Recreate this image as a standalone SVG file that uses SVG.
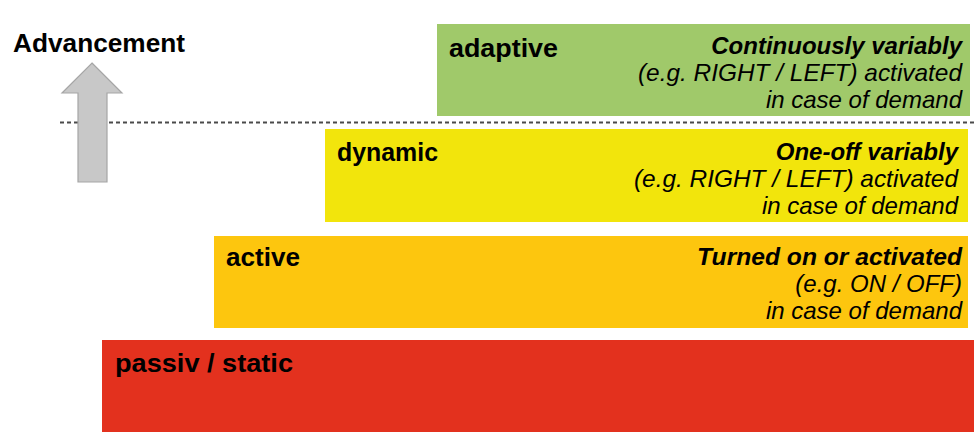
<svg xmlns="http://www.w3.org/2000/svg" width="974" height="438" viewBox="0 0 974 438">
<style>
.lbl{font-family:"Liberation Sans",Arial,sans-serif;font-weight:bold;font-size:25px;fill:#000}
.hd{font-family:"Liberation Sans",Arial,sans-serif;font-weight:bold;font-style:italic;font-size:24px;fill:#000;text-anchor:end}
.tx{font-family:"Liberation Sans",Arial,sans-serif;font-style:italic;font-size:24px;fill:#000;text-anchor:end}
</style>
<rect width="974" height="438" fill="#fff"/>
<g id="connectors">
<line x1="60" y1="122.5" x2="974" y2="122.5" stroke="#4a4a4a" stroke-width="2" stroke-dasharray="4 3"/>
</g>
<g id="advancement">
<text class="lbl" x="13" y="52" font-size="26" textLength="172" lengthAdjust="spacingAndGlyphs">Advancement</text>
<polygon points="92,63 122,93 107,93 107,182 78,182 78,93 62,93" fill="#c8c8c8" stroke="#a6a6a6" stroke-width="1.2"/>
</g>
<g id="adaptive">
<rect x="437" y="24" width="533" height="92" fill="#a0c96a"/>
<text class="lbl" x="449" y="57" textLength="109" lengthAdjust="spacingAndGlyphs">adaptive</text>
<text class="hd" x="962" y="54">Continuously variably</text>
<text class="tx" x="962" y="81" textLength="324" lengthAdjust="spacingAndGlyphs">(e.g. RIGHT / LEFT) activated</text>
<text class="tx" x="962" y="108">in case of demand</text>
</g>
<g id="dynamic">
<rect x="325" y="129" width="643" height="93" fill="#f2e50c"/>
<text class="lbl" x="337" y="161" textLength="101" lengthAdjust="spacingAndGlyphs">dynamic</text>
<text class="hd" x="958" y="160">One-off variably</text>
<text class="tx" x="958" y="187" textLength="324" lengthAdjust="spacingAndGlyphs">(e.g. RIGHT / LEFT) activated</text>
<text class="tx" x="958" y="214">in case of demand</text>
</g>
<g id="active">
<rect x="214" y="236" width="754" height="92" fill="#fdc60e"/>
<text class="lbl" x="226" y="266" textLength="74" lengthAdjust="spacingAndGlyphs">active</text>
<text class="hd" x="962" y="265" textLength="265" lengthAdjust="spacingAndGlyphs">Turned on or activated</text>
<text class="tx" x="962" y="292">(e.g. ON / OFF)</text>
<text class="tx" x="962" y="319">in case of demand</text>
</g>
<g id="passiv">
<rect x="102" y="340" width="872" height="92" fill="#e3311e"/>
<text class="lbl" x="115" y="372" textLength="178" lengthAdjust="spacingAndGlyphs">passiv / static</text>
</g>
</svg>
